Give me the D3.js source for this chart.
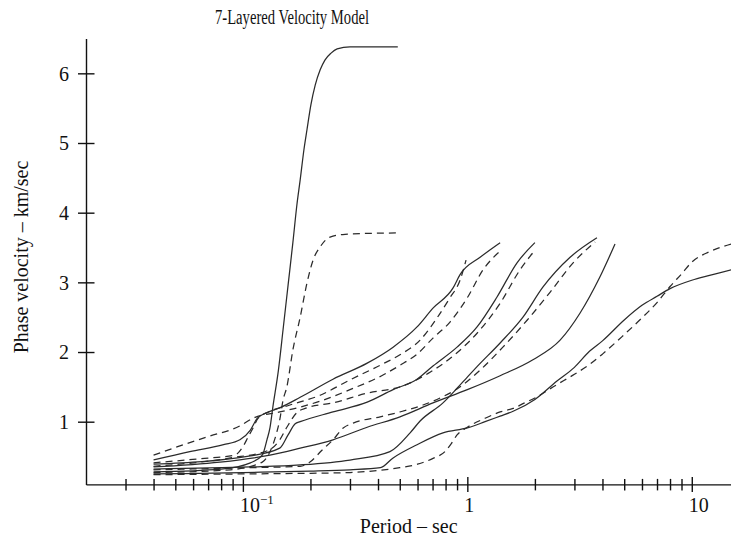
<!DOCTYPE html>
<html>
<head>
<meta charset="utf-8">
<script src="https://cdn.jsdelivr.net/npm/d3@7"></script>
<style>
  body { margin: 0; background: #fff; }
  svg { display: block; }
  text { font-family: "Liberation Serif", "Times New Roman", serif; fill: #111; }
</style>
</head>
<body>
<svg id="chart" width="731" height="540"></svg>
<script>
// ---- text ----
const chartTitle = "7-Layered Velocity Model";
const xTitle = "Period \u2013 sec";
const yTitle = "Phase velocity \u2013 km/sec";

// ---- axis ticks ----
const xMajorTicks = [0.1, 1, 10];
const xMinorTicks = [0.03, 0.04, 0.05, 0.06, 0.07, 0.08, 0.09,
                     0.2, 0.3, 0.4, 0.5, 0.6, 0.7, 0.8, 0.9,
                     2, 3, 4, 5, 6, 7, 8, 9];
const yTicks = [1, 2, 3, 4, 5, 6];

// ---- dispersion curves: [period (s), phase velocity (km/s)] ----
// solid family
const solidHigh = [[0.04,0.28],[0.08,0.32],[0.108,0.41],[0.122,0.52],[0.128,0.74],[0.132,0.91],
  [0.136,1.21],[0.144,1.74],[0.151,2.32],[0.159,2.96],[0.167,3.57],[0.174,4.11],[0.18,4.47],
  [0.187,4.90],[0.193,5.19],[0.201,5.55],[0.21,5.83],[0.221,6.05],[0.232,6.19],[0.247,6.29],
  [0.263,6.35],[0.3,6.38],[0.49,6.38]];
const solidMode4 = [[0.04,0.45],[0.058,0.57],[0.082,0.67],[0.097,0.74],[0.108,0.88],[0.116,1.05],
  [0.128,1.13],[0.146,1.20],[0.18,1.35],[0.252,1.61],[0.358,1.84],[0.467,2.07],[0.597,2.36],
  [0.703,2.63],[0.864,2.92],[0.928,3.11],[1.14,3.36],[1.4,3.57]];
const solidMode3 = [[0.04,0.39],[0.108,0.51],[0.146,0.62],[0.159,0.81],[0.171,0.97],[0.18,1.0],
  [0.252,1.14],[0.358,1.28],[0.467,1.46],[0.597,1.61],[0.703,1.80],[0.9,2.07],[1.105,2.36],
  [1.356,2.79],[1.665,3.28],[2.0,3.57]];
const solidMode2 = [[0.04,0.32],[0.108,0.35],[0.18,0.38],[0.3,0.45],[0.452,0.57],[0.556,0.84],
  [0.616,1.01],[0.779,1.27],[0.9,1.48],[1.0,1.64],[1.105,1.79],[1.4,2.13],[1.77,2.50],
  [2.17,2.93],[2.87,3.36],[3.78,3.64]];
const solidMode1 = [[0.04,0.35],[0.079,0.42],[0.132,0.52],[0.18,0.62],[0.252,0.74],[0.358,0.92],
  [0.501,1.07],[0.703,1.27],[1.0,1.46],[1.4,1.66],[1.96,1.89],[2.59,2.17],[3.18,2.56],
  [3.9,3.08],[4.55,3.55]];
const solidMode0 = [[0.04,0.25],[0.1,0.27],[0.2,0.29],[0.3,0.31],[0.41,0.34],[0.467,0.48],
  [0.597,0.67],[0.779,0.84],[1.0,0.91],[1.2,1.0],[1.4,1.08],[1.6,1.15],[2,1.32],[2.5,1.58],
  [3,1.78],[3.5,2.01],[4,2.16],[5,2.46],[6,2.67],[7,2.8],[8,2.91],[10,3.03],[12,3.1],[15,3.18]];

// dashed family
const dashedHigh = [[0.04,0.27],[0.088,0.31],[0.122,0.42],[0.132,0.57],[0.1405,0.81],[0.146,1.03],
  [0.151,1.31],[0.157,1.50],[0.167,2.03],[0.18,2.50],[0.193,2.99],[0.2055,3.32],[0.221,3.51],
  [0.2445,3.65],[0.285,3.69],[0.49,3.71]];
const dashedMode4 = [[0.04,0.52],[0.049,0.62],[0.069,0.78],[0.097,0.94],[0.111,1.05],[0.146,1.14],
  [0.18,1.21],[0.214,1.28],[0.3,1.46],[0.421,1.67],[0.501,1.81],[0.597,1.97],[0.703,2.20],
  [0.837,2.43],[1.0,2.78],[1.175,3.18],[1.4,3.45]];
const dashedMode4b = [[0.04,0.41],[0.065,0.47],[0.092,0.52],[0.1,0.64],[0.1055,0.78],[0.111,0.91],
  [0.117,1.05],[0.13,1.14],[0.162,1.24],[0.221,1.38],[0.3,1.60],[0.409,1.81],[0.501,1.96],
  [0.616,2.17],[0.733,2.49],[0.837,2.78],[0.928,3.03],[0.987,3.32]];
const dashedMode3 = [[0.04,0.36],[0.088,0.48],[0.13,0.59],[0.146,0.74],[0.157,0.92],[0.174,1.13],
  [0.193,1.20],[0.252,1.27],[0.358,1.41],[0.501,1.50],[0.682,1.71],[0.9,1.99],[1.105,2.27],
  [1.4,2.70],[1.717,3.18],[2.0,3.46]];
const dashedMode2 = [[0.04,0.31],[0.108,0.34],[0.18,0.36],[0.199,0.42],[0.225,0.59],[0.252,0.74],
  [0.28,0.91],[0.31,0.98],[0.409,1.07],[0.501,1.14],[0.635,1.24],[0.756,1.34],[0.909,1.48],
  [1.14,1.74],[1.44,2.07],[1.85,2.46],[2.34,2.86],[2.96,3.28],[3.71,3.58]];
const dashedMode0 = [[0.04,0.24],[0.1,0.25],[0.2,0.26],[0.3,0.27],[0.4,0.30],[0.5,0.34],[0.6,0.39],
  [0.7,0.47],[0.8,0.58],[0.85,0.69],[0.9,0.81],[1.0,0.92],[1.2,1.05],[1.4,1.14],[1.6,1.19],
  [1.8,1.27],[2,1.34],[2.5,1.53],[3,1.68],[3.5,1.82],[4,1.97],[5,2.25],[6,2.49],[7,2.71],
  [8,2.94],[9,3.12],[10,3.29],[12,3.44],[15,3.55]];

const solidCurves = [solidHigh, solidMode4, solidMode3, solidMode2, solidMode1, solidMode0];
const dashedCurves = [dashedHigh, dashedMode4, dashedMode4b, dashedMode3, dashedMode2, dashedMode0];

// ---- layout ----
const svg = d3.select("#chart");
const plot = { left: 86, right: 731.3, top: 38.5, bottom: 484.4 };

const x = d3.scaleLog().domain([0.02, 15]).range([plot.left, plot.right]);
const y = d3.scaleLinear().domain([0.1, 6.5]).range([plot.bottom, plot.top]);

const line = d3.line()
  .x(d => x(d[0]))
  .y(d => y(d[1]))
  .curve(d3.curveMonotoneX);

// curves
const curves = svg.append("g").attr("fill", "none").attr("stroke", "#2b2b2b")
  .attr("stroke-width", 1.25).attr("stroke-linejoin", "round");
curves.selectAll("path.solid").data(solidCurves).join("path")
  .attr("class", "solid").attr("d", line);
curves.selectAll("path.dashed").data(dashedCurves).join("path")
  .attr("class", "dashed").attr("d", line).attr("stroke-dasharray", "7,5");

// x axis: major ticks with labels, minor ticks without
const xAxisMajor = svg.append("g").attr("transform", `translate(0,${plot.bottom})`)
  .call(d3.axisBottom(x).tickValues(xMajorTicks).tickSizeOuter(0).tickFormat(""));
const xAxisMinor = svg.append("g").attr("transform", `translate(0,${plot.bottom})`)
  .call(d3.axisBottom(x).tickValues(xMinorTicks).tickSizeOuter(0).tickFormat(""));
xAxisMinor.select(".domain").remove();
xAxisMajor.selectAll(".tick line").attr("y1", -7.5).attr("y2", 7.5);
xAxisMinor.selectAll(".tick line").attr("y1", -5.5).attr("y2", 6);

xAxisMajor.selectAll(".tick").each(function(d) {
  const t = d3.select(this).select("text")
    .attr("text-anchor", "start").attr("x", -3.5).attr("y", 27.3).attr("dy", 0)
    .attr("font-size", 20).attr("fill", "#111");
  if (d < 1) {
    // 10 with a raised exponent of -1
    t.text(null);
    t.append("tspan").text("10");
    t.append("tspan").attr("dy", -8).attr("font-size", 13).text("\u22121");
  } else {
    t.text(d3.format("d")(d));
  }
});

// y axis
const yAxis = svg.append("g").attr("transform", `translate(${plot.left},0)`)
  .call(d3.axisLeft(y).tickValues(yTicks).tickSizeOuter(0).tickFormat(d3.format("d")));
yAxis.selectAll(".tick line").attr("x1", -8).attr("x2", 8.5);
yAxis.selectAll(".tick text").attr("x", -17).attr("dy", "0.34em")
  .attr("font-size", 20).attr("fill", "#111");

svg.selectAll(".domain, .tick line").attr("stroke", "#111").attr("stroke-width", 1.4);
svg.selectAll(".tick text").attr("font-family", "'Liberation Serif', 'Times New Roman', serif");

// titles
svg.append("text").attr("x", 215).attr("y", 24)
  .attr("font-size", 20).attr("textLength", 154).attr("lengthAdjust", "spacingAndGlyphs")
  .text(chartTitle);
svg.append("text").attr("x", (plot.left + plot.right) / 2).attr("y", 533)
  .attr("text-anchor", "middle").attr("font-size", 20).text(xTitle);
svg.append("text").attr("transform", "translate(28,257) rotate(-90)")
  .attr("text-anchor", "middle").attr("font-size", 20).text(yTitle);
</script>
</body>
</html>
